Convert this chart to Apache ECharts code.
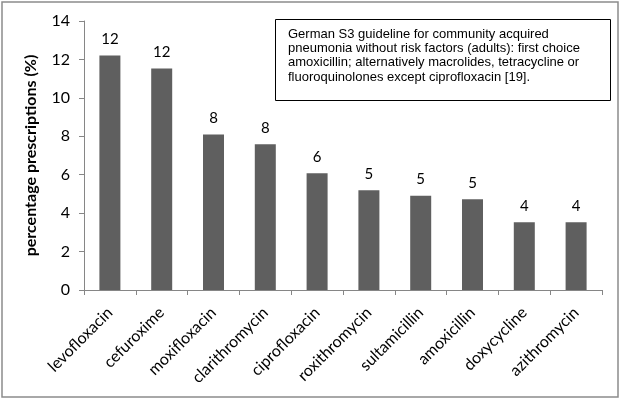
<!DOCTYPE html>
<html>
<head>
<meta charset="utf-8">
<script src="https://cdn.jsdelivr.net/npm/echarts@6/dist/echarts.min.js"></script>
<style>html,body{margin:0;padding:0;background:#fff}#c{width:623px;height:400px}</style>
</head>
<body>
<div id="c"></div>
<script>
var categories = ['levofloxacin','cefuroxime','moxifloxacin','clarithromycin','ciprofloxacin','roxithromycin','sultamicillin','amoxicillin','doxycycline','azithromycin'];
var values = [12.2, 11.53, 8.09, 7.59, 6.08, 5.19, 4.9, 4.72, 3.52, 3.52];
var yTicks = [0, 2, 4, 6, 8, 10, 12, 14];
var yAxisTitle = 'percentage prescriptions (%)';
var noteLines = [
  'German S3 guideline for community acquired',
  'pneumonia without risk factors (adults): first choice',
  'amoxicillin; alternatively macrolides, tetracycline or',
  'fluoroquinolones except ciprofloxacin [19].'
];

var chart = echarts.init(document.getElementById('c'));
var calib = 'Lato, "Open Sans", sans-serif';
chart.setOption({
  animation: false,
  grid: { left: 84, right: 21, top: 21, bottom: 110 },
  xAxis: {
    type: 'category',
    data: categories,
    axisLine: { lineStyle: { color: '#868686', width: 1 } },
    axisTick: { show: true, length: 5, lineStyle: { color: '#868686' } },
    axisLabel: { rotate: 45, margin: 20, color: '#000', fontSize: 16, fontFamily: calib, interval: 0 }
  },
  yAxis: {
    type: 'value',
    min: yTicks[0],
    max: yTicks[yTicks.length - 1],
    interval: 2,
    name: yAxisTitle,
    nameLocation: 'middle',
    nameGap: 45,
    nameTextStyle: { fontSize: 16, fontWeight: 'bold', color: '#000', fontFamily: calib },
    axisLine: { show: true, lineStyle: { color: '#868686', width: 1 } },
    axisTick: { show: true, length: 5, lineStyle: { color: '#868686' } },
    splitLine: { show: false },
    axisLabel: { margin: 14, color: '#000', fontSize: 16, fontFamily: calib }
  },
  series: [{
    type: 'bar',
    data: values,
    barWidth: 21,
    itemStyle: { color: '#5f5f5f' },
    label: {
      show: true, position: 'top', distance: 9,
      color: '#000', fontSize: 15, fontFamily: calib,
      formatter: function (p) { return Math.round(p.value); }
    }
  }],
  graphic: [
    { type: 'rect', shape: { x: 2, y: 2, width: 616, height: 395 }, style: { fill: null, stroke: '#8c8c8c', lineWidth: 1.5 }, silent: true },
    { type: 'rect', shape: { x: 275.5, y: 19.5, width: 335, height: 81 }, style: { fill: '#fff', stroke: '#000', lineWidth: 1 }, z: 10 },
    { type: 'text', left: 288, top: 27, z: 11,
      style: { text: noteLines.join('\n'), fontSize: 13, lineHeight: 14.3, fontFamily: '"Liberation Sans", Arial, sans-serif', fill: '#000' } }
  ]
});
</script>
</body>
</html>
